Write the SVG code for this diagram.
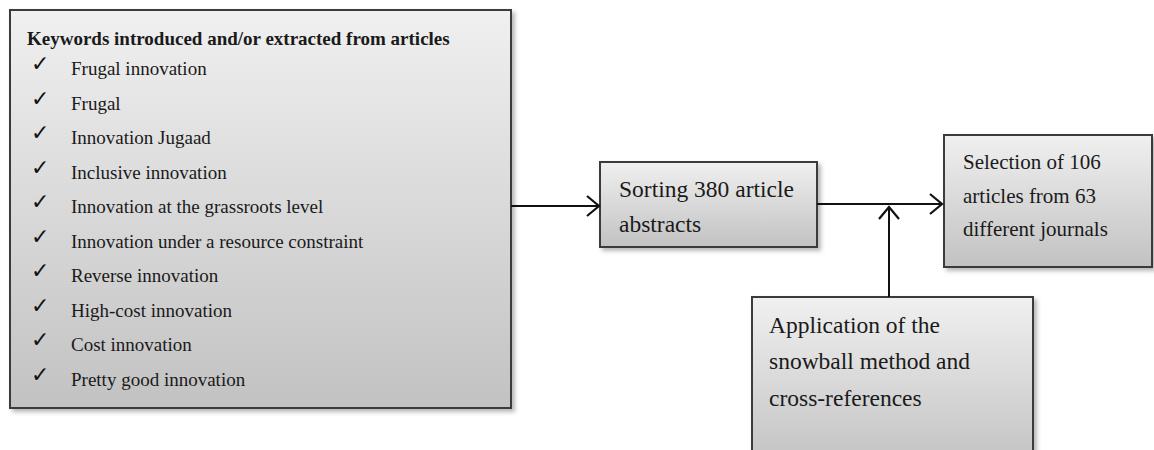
<svg xmlns="http://www.w3.org/2000/svg" width="1154" height="450" viewBox="0 0 1154 450">
<defs>
<linearGradient id="g" x1="0" y1="0" x2="0" y2="1">
<stop offset="0" stop-color="#f0f0f0"/>
<stop offset="1" stop-color="#c2c2c2"/>
</linearGradient>
<filter id="sh" x="-5%" y="-5%" width="115%" height="120%">
<feDropShadow dx="3" dy="3" stdDeviation="2" flood-color="#888" flood-opacity="0.6"/>
</filter>
<marker id="ah" markerWidth="16" markerHeight="24" refX="14" refY="12" orient="auto" markerUnits="userSpaceOnUse">
<path d="M2,2 L14,12 L2,22" fill="none" stroke="#111" stroke-width="2.2"/>
</marker>
<style>
.box{fill:url(#g);stroke:#3a3a3a;stroke-width:2;filter:url(#sh)}
.t{font-family:"Liberation Serif","Times New Roman",serif;fill:#1a1a1a}
.it{font-size:19px}
.ck{font-family:"DejaVu Sans",sans-serif;font-size:22px;fill:#111}
.c{stroke:#111;stroke-width:2;fill:none}
</style>
</defs>
<g id="keywords">
<rect class="box" x="10" y="10" width="501" height="398"/>
<text class="t" x="27" y="45" font-size="19" font-weight="bold">Keywords introduced and/or extracted from articles</text>
<g class="ck">
<text x="31" y="71">✓</text>
<text x="31" y="105.5">✓</text>
<text x="31" y="140">✓</text>
<text x="31" y="174.5">✓</text>
<text x="31" y="209">✓</text>
<text x="31" y="243.5">✓</text>
<text x="31" y="278">✓</text>
<text x="31" y="312.5">✓</text>
<text x="31" y="347">✓</text>
<text x="31" y="381.5">✓</text>
</g>
<g class="t it">
<text x="71" y="75">Frugal innovation</text>
<text x="71" y="109.5">Frugal</text>
<text x="71" y="144">Innovation Jugaad</text>
<text x="71" y="178.5">Inclusive innovation</text>
<text x="71" y="213">Innovation at the grassroots level</text>
<text x="71" y="247.5">Innovation under a resource constraint</text>
<text x="71" y="282">Reverse innovation</text>
<text x="71" y="316.5">High-cost innovation</text>
<text x="71" y="351">Cost innovation</text>
<text x="71" y="385.5">Pretty good innovation</text>
</g>
</g>
<g id="sorting">
<rect class="box" x="600" y="162" width="217" height="85"/>
<text class="t" font-size="23.5" x="619" y="197">Sorting 380 article</text>
<text class="t" font-size="23.5" x="619" y="232">abstracts</text>
</g>
<g id="selection">
<rect class="box" x="944" y="135" width="208" height="132"/>
<text class="t" font-size="21" x="963" y="169">Selection of 106</text>
<text class="t" font-size="21" x="963" y="203">articles from 63</text>
<text class="t" font-size="21" x="963" y="236">different journals</text>
</g>
<g id="snowball">
<rect class="box" x="752" y="297" width="281" height="170"/>
<text class="t" font-size="23.5" x="769" y="333">Application of the</text>
<text class="t" font-size="23.5" x="769" y="369">snowball method and</text>
<text class="t" font-size="23.5" x="769" y="406">cross-references</text>
</g>
<g id="connectors">
<line class="c" x1="511" y1="206" x2="599" y2="206" marker-end="url(#ah)"/>
<line class="c" x1="817" y1="204" x2="942" y2="204" marker-end="url(#ah)"/>
<line class="c" x1="889" y1="297" x2="889" y2="207" marker-end="url(#ah)"/>
</g>
</svg>
